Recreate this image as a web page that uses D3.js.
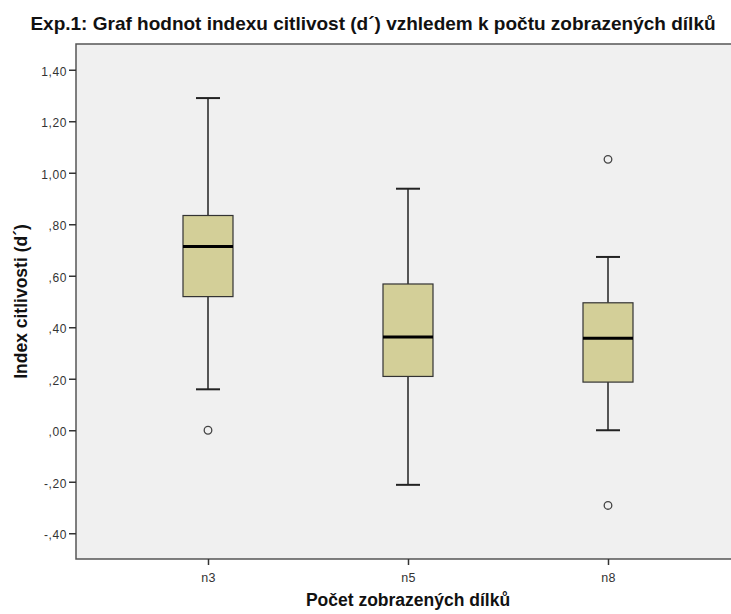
<!DOCTYPE html>
<html>
<head>
<meta charset="utf-8">
<script src="https://cdn.jsdelivr.net/npm/d3@7"></script>
<style>
  body { margin: 0; background: #fff; }
  svg { display: block; font-family: "Liberation Sans", Arial, sans-serif; }
</style>
</head>
<body>
<svg id="chart" width="731" height="614"></svg>
<script>
// categories and five-number summaries
const categories = ["n3", "n5", "n8"]
const whiskerLow = [0.159, -0.212, 0.0]
const q1 = [0.519, 0.209, 0.187]
const medians = [0.714, 0.362, 0.357]
const q3 = [0.834, 0.568, 0.495]
const whiskerHigh = [1.29, 0.938, 0.673]
const outliers = [[0.0], [], [1.052, -0.292]]
const yTicks = [-0.4, -0.2, 0, 0.2, 0.4, 0.6, 0.8, 1.0, 1.2, 1.4]

const svg = d3.select("#chart")
const plotLeft = 76, plotRight = 740, plotTop = 44, plotBottom = 559

const x = d3.scalePoint().domain(categories).range([plotLeft, plotRight]).padding(0.66)
const y = d3.scaleLinear().domain([-0.5, 1.5]).range([plotBottom, plotTop])

// format like SPSS: ",40", "1,20", "-,20"
const fmt = (v) => {
  let s = Math.abs(v).toFixed(2).replace(".", ",")
  if (Math.abs(v) < 1) s = s.slice(1)
  return (v < 0 ? "-" : "") + s
}

// plot background
svg.append("rect")
  .attr("x", plotLeft).attr("y", plotTop)
  .attr("width", plotRight - plotLeft).attr("height", plotBottom - plotTop)
  .attr("fill", "#f0f0f0")
  .attr("stroke", "#555").attr("stroke-width", 1.5)

// title
svg.append("text")
  .attr("x", 373).attr("y", 30)
  .attr("text-anchor", "middle")
  .style("font-size", "19px").style("font-weight", "bold")
  .attr("fill", "#111")
  .text("Exp.1: Graf hodnot indexu citlivost (d´) vzhledem k počtu zobrazených dílků")

// y axis
const yAxis = d3.axisLeft(y).tickValues(yTicks).tickSize(7).tickFormat(fmt)
const gy = svg.append("g").attr("transform", `translate(${plotLeft},0)`).call(yAxis)
gy.select(".domain").remove()
gy.selectAll("line").attr("stroke", "#333").attr("stroke-width", 1.5)
gy.selectAll("text").attr("fill", "#333")
  .style("font-size", "12px").style("letter-spacing", "0.6px")
  .attr("x", -9).attr("dy", "0.45em")

// x axis
const xAxis = d3.axisBottom(x).tickSize(6).tickPadding(8)
const gx = svg.append("g").attr("transform", `translate(0,${plotBottom})`).call(xAxis)
gx.select(".domain").remove()
gx.selectAll("line").attr("stroke", "#333").attr("stroke-width", 1.5)
gx.selectAll("text").attr("fill", "#333")
  .style("font-size", "12.5px").style("letter-spacing", "0.3px")

// axis titles
svg.append("text")
  .attr("transform", `translate(27,${(plotTop + plotBottom) / 2}) rotate(-90)`)
  .attr("text-anchor", "middle")
  .style("font-size", "17.5px").style("font-weight", "bold")
  .attr("fill", "#111")
  .text("Index citlivosti (d´)")

svg.append("text")
  .attr("x", x("n5")).attr("y", 606)
  .attr("text-anchor", "middle")
  .style("font-size", "17.5px").style("font-weight", "bold")
  .attr("fill", "#111")
  .text("Počet zobrazených dílků")

// boxes
const boxW = 50, capW = 24
const boxes = svg.append("g").selectAll("g")
  .data(categories)
  .join("g")
  .attr("transform", (d) => `translate(${x(d)},0)`)

boxes.append("line")
  .attr("y1", (d, i) => y(whiskerHigh[i])).attr("y2", (d, i) => y(q3[i]))
  .attr("stroke", "#222").attr("stroke-width", 1.5)
boxes.append("line")
  .attr("y1", (d, i) => y(q1[i])).attr("y2", (d, i) => y(whiskerLow[i]))
  .attr("stroke", "#222").attr("stroke-width", 1.5)

boxes.append("line")
  .attr("x1", -capW / 2).attr("x2", capW / 2)
  .attr("y1", (d, i) => y(whiskerHigh[i])).attr("y2", (d, i) => y(whiskerHigh[i]))
  .attr("stroke", "#222").attr("stroke-width", 2)
boxes.append("line")
  .attr("x1", -capW / 2).attr("x2", capW / 2)
  .attr("y1", (d, i) => y(whiskerLow[i])).attr("y2", (d, i) => y(whiskerLow[i]))
  .attr("stroke", "#222").attr("stroke-width", 2)

boxes.append("rect")
  .attr("x", -boxW / 2).attr("width", boxW)
  .attr("y", (d, i) => y(q3[i]))
  .attr("height", (d, i) => y(q1[i]) - y(q3[i]))
  .attr("fill", "#d3cf98")
  .attr("stroke", "#333").attr("stroke-width", 1.2)

boxes.append("line")
  .attr("x1", -boxW / 2).attr("x2", boxW / 2)
  .attr("y1", (d, i) => y(medians[i])).attr("y2", (d, i) => y(medians[i]))
  .attr("stroke", "#000").attr("stroke-width", 3)

boxes.selectAll("circle")
  .data((d, i) => outliers[i])
  .join("circle")
  .attr("cy", (d) => y(d))
  .attr("r", 3.8)
  .attr("fill", "none")
  .attr("stroke", "#444").attr("stroke-width", 1.3)
</script>
</body>
</html>
